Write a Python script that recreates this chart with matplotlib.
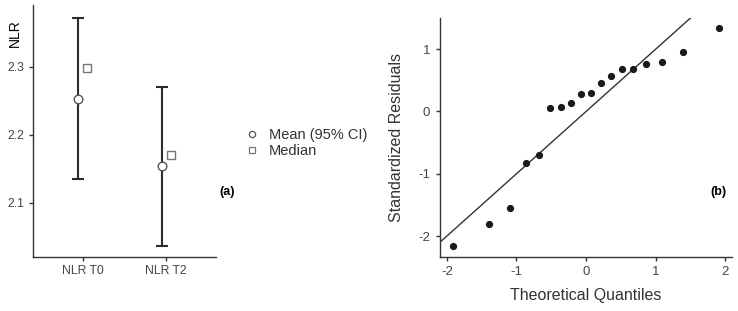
import matplotlib
matplotlib.use("Agg")
import matplotlib.pyplot as plt
from matplotlib.lines import Line2D

plt.rcParams['font.family'] = ['Liberation Sans', 'DejaVu Sans']
plt.rcParams['axes.unicode_minus'] = False

# Panel (a) data
groups = ["NLR T0", "NLR T2"]
means = [2.253, 2.154]
ci_low = [2.135, 2.037]
ci_high = [2.372, 2.270]
medians = [2.298, 2.171]
yticks_a = [2.1, 2.2, 2.3]

# Panel (b) data
theoretical_q = [-1.915, -1.389, -1.087, -0.864, -0.675, -0.513, -0.359, -0.214, -0.071,
                 0.071, 0.214, 0.359, 0.513, 0.675, 0.864, 1.087, 1.389, 1.915]
std_resid = [-2.156, -1.803, -1.541, -0.829, -0.706, 0.064, 0.080, 0.140, 0.284,
             0.300, 0.455, 0.568, 0.690, 0.690, 0.766, 0.792, 0.958, 1.338]
xticks_b = [-2, -1, 0, 1, 2]
yticks_b = [-2, -1, 0, 1]

spine_c = '#333333'
tick_c = '#444444'

fig = plt.figure(figsize=(7.38, 3.11), dpi=100)

# ---------- Panel (a) ----------
ax1 = fig.add_axes([0.0447, 0.1736, 0.2480, 0.8104])
xpos = list(range(len(groups)))
off = 0.053
for i in xpos:
    ax1.errorbar(i - off, means[i],
                 yerr=[[means[i] - ci_low[i]], [ci_high[i] - means[i]]],
                 fmt='none', ecolor='#2b2b2b', elinewidth=1.5, capsize=4, capthick=1.5, zorder=2)
ax1.plot([i - off for i in xpos], means, linestyle='none', marker='o', markersize=6.2,
         markerfacecolor='white', markeredgecolor='#555555', markeredgewidth=1.0, zorder=3)
ax1.plot([i + off for i in xpos], medians, linestyle='none', marker='s', markersize=5.3,
         markerfacecolor='white', markeredgecolor='#777777', markeredgewidth=1.0, zorder=3)
ax1.set_xlim(-0.6, 1.6)
ax1.set_ylim(2.0206, 2.391)
ax1.set_xticks(xpos)
ax1.set_xticklabels(groups)
ax1.set_yticks(yticks_a)
ax1.set_yticklabels([f"{v:.1f}" for v in yticks_a])
for s in ['top', 'right']:
    ax1.spines[s].set_visible(False)
for s in ['left', 'bottom']:
    ax1.spines[s].set_color(spine_c)
    ax1.spines[s].set_linewidth(1.0)
ax1.tick_params(direction='out', length=3, width=1, colors=spine_c, labelcolor=tick_c, labelsize=8.8, pad=3)
ax1.set_ylabel("NLR", fontsize=10, color='black', labelpad=2)
ax1.yaxis.set_label_coords(-0.06, 0.89)

# legend
handles = [Line2D([], [], linestyle='none', marker='o', markersize=4.5, markerfacecolor='white',
                  markeredgecolor='#555555', markeredgewidth=0.9),
           Line2D([], [], linestyle='none', marker='s', markersize=4.2, markerfacecolor='white',
                  markeredgecolor='#777777', markeredgewidth=0.9)]
fig.legend(handles, ["Mean (95% CI)", "Median"], loc='center left',
           bbox_to_anchor=(235 / 738, 1 - 143 / 311), frameon=False, fontsize=10.5,
           handlelength=1.0, handletextpad=0.6, labelspacing=0.1, labelcolor='#333333',
           borderpad=0.2)
fig.text(227 / 738, 1 - 192 / 311, "(a)", fontsize=9, fontweight='bold', ha='center', va='center')

# ---------- Panel (b) ----------
ax2 = fig.add_axes([0.5962, 0.1747, 0.3953, 0.7673])
ax2.axline((0, 0), slope=1, color='#333333', linewidth=1.0, zorder=1)
ax2.plot(theoretical_q, std_resid, linestyle='none', marker='o', markersize=4.2,
         color='#1a1a1a', zorder=2)
ax2.set_xlim(-2.098, 2.093)
ax2.set_ylim(-2.33, 1.5)
ax2.set_xticks(xticks_b)
ax2.set_yticks(yticks_b)
for s in ['top', 'right']:
    ax2.spines[s].set_visible(False)
for s in ['left', 'bottom']:
    ax2.spines[s].set_color(spine_c)
    ax2.spines[s].set_linewidth(1.0)
ax2.tick_params(direction='out', length=3, width=1, colors=spine_c, labelcolor=tick_c, labelsize=9.5, pad=4)
ax2.set_xlabel("Theoretical Quantiles", fontsize=11.5, color='#333333', labelpad=7)
ax2.set_ylabel("Standardized Residuals", fontsize=11.5, color='#333333', labelpad=10)
fig.text(718 / 738, 1 - 192 / 311, "(b)", fontsize=9, fontweight='bold', ha='center', va='center')

fig.savefig("out.png", dpi=100)
